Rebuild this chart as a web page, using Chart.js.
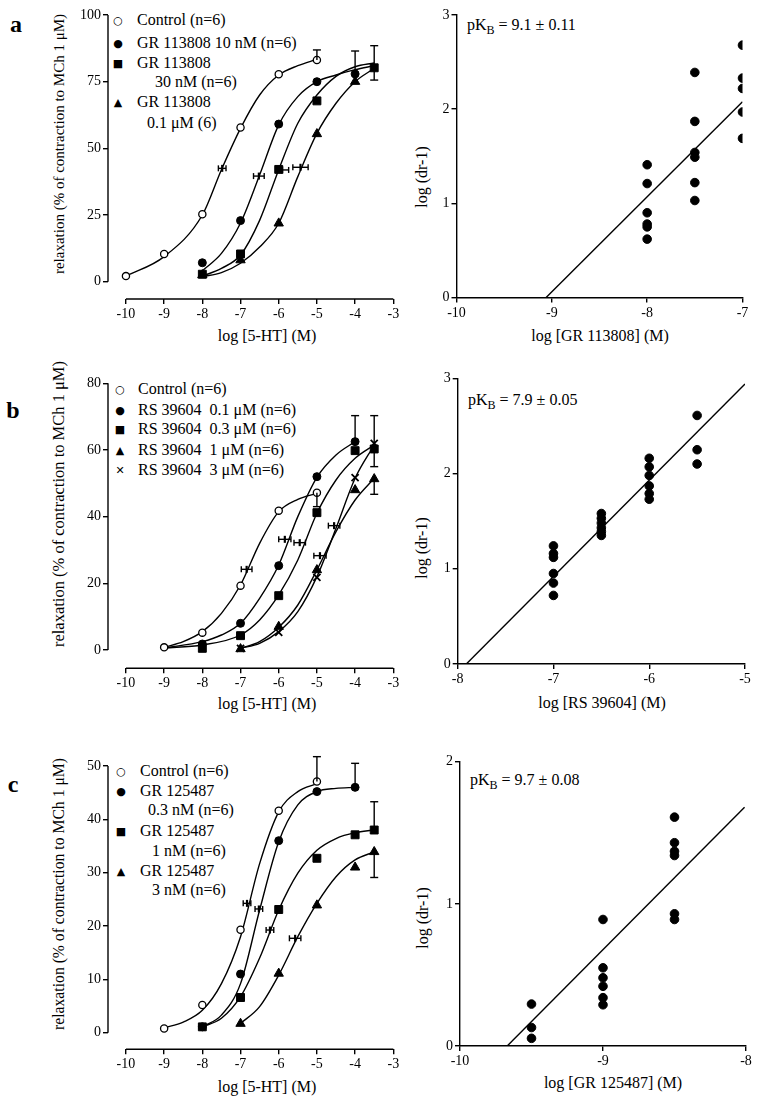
<!DOCTYPE html>
<html>
<head>
<meta charset="utf-8">
<script src="https://cdn.jsdelivr.net/npm/chart.js@4.4.1/dist/chart.umd.min.js"></script>
<style>
  body { margin: 0; background: #fff; }
  #page { position: relative; width: 761px; height: 1100px; font-family: 'Liberation Serif', serif; color: #000; overflow: hidden; }
  canvas { position: absolute; }
  .t { position: absolute; white-space: pre; line-height: 1; font-size: 16px; }
  .c { transform: translate(-50%, -50%); }
  .v { transform: translate(-50%, -50%) rotate(-90deg); }
  .l { transform: translateY(-50%); }
  .sym { position: absolute; font-family: 'DejaVu Sans', sans-serif; font-size: 11px; line-height: 1; transform: translate(-50%, -50%); }
  .lab { position: absolute; font-weight: bold; font-size: 24px; line-height: 1; transform: translate(-50%, -50%); }
  sub { font-size: 12px; vertical-align: -4px; line-height: 0; }
</style>
</head>
<body>
<div id="page">
  <div class="lab" style="left:16px;top:24px">a</div>
  <div class="lab" style="left:13px;top:410px">b</div>
  <div class="lab" style="left:13px;top:784px">c</div>

  <!-- legend a -->
  <div class="sym" style="left:118px;top:20px">○</div>
  <div class="t l" style="left:137px;top:20px">Control (n=6)</div>
  <div class="sym" style="left:118px;top:43px">●</div>
  <div class="t l" style="left:137px;top:43px">GR 113808 10 nM (n=6)</div>
  <div class="sym" style="left:118px;top:63px">■</div>
  <div class="t l" style="left:137px;top:63px">GR 113808</div>
  <div class="t l" style="left:155px;top:82px">30 nM (n=6)</div>
  <div class="sym" style="left:118px;top:102px">▲</div>
  <div class="t l" style="left:137px;top:102px">GR 113808</div>
  <div class="t l" style="left:147px;top:123px">0.1 μM (6)</div>

  <!-- legend b -->
  <div class="sym" style="left:120px;top:389px">○</div>
  <div class="t l" style="left:138px;top:389px">Control (n=6)</div>
  <div class="sym" style="left:120px;top:410px">●</div>
  <div class="t l" style="left:138px;top:410px">RS 39604  0.1 μM (n=6)</div>
  <div class="sym" style="left:120px;top:429px">■</div>
  <div class="t l" style="left:138px;top:429px">RS 39604  0.3 μM (n=6)</div>
  <div class="sym" style="left:120px;top:450px">▲</div>
  <div class="t l" style="left:138px;top:450px">RS 39604  1 μM (n=6)</div>
  <div class="sym" style="left:120px;top:470px">✕</div>
  <div class="t l" style="left:138px;top:470px">RS 39604  3 μM (n=6)</div>

  <!-- legend c -->
  <div class="sym" style="left:121px;top:771px">○</div>
  <div class="t l" style="left:140px;top:771px">Control (n=6)</div>
  <div class="sym" style="left:121px;top:791px">●</div>
  <div class="t l" style="left:140px;top:791px">GR 125487</div>
  <div class="t l" style="left:148px;top:810px">0.3 nM (n=6)</div>
  <div class="sym" style="left:121px;top:831px">■</div>
  <div class="t l" style="left:140px;top:831px">GR 125487</div>
  <div class="t l" style="left:152px;top:851px">1 nM (n=6)</div>
  <div class="sym" style="left:121px;top:871px">▲</div>
  <div class="t l" style="left:140px;top:871px">GR 125487</div>
  <div class="t l" style="left:152px;top:890px">3 nM (n=6)</div>

  <!-- pKB notes -->
  <div class="t l" style="left:467px;top:25px">pK<sub>B</sub> = 9.1 ± 0.11</div>
  <div class="t l" style="left:468px;top:400px">pK<sub>B</sub> = 7.9 ± 0.05</div>
  <div class="t l" style="left:470px;top:780px">pK<sub>B</sub> = 9.7 ± 0.08</div>

  <!-- axis titles -->
  <div class="t c" style="left:267px;top:336px">log [5-HT] (M)</div>
  <div class="t c" style="left:600px;top:336px">log [GR 113808] (M)</div>
  <div class="t c" style="left:267px;top:704px">log [5-HT] (M)</div>
  <div class="t c" style="left:602px;top:703px">log [RS 39604] (M)</div>
  <div class="t c" style="left:267px;top:1087px">log [5-HT] (M)</div>
  <div class="t c" style="left:613px;top:1083px">log [GR 125487] (M)</div>
  <div class="t v" style="left:59px;top:144px;font-size:15px">relaxation (% of contraction to MCh 1 μM)</div>
  <div class="t v" style="left:59px;top:504px;font-size:16.5px">relaxation (% of contraction to MCh 1 μM)</div>
  <div class="t v" style="left:59px;top:894px;font-size:15.7px">relaxation (% of contraction to MCh 1 μM)</div>
  <div class="t v" style="left:422px;top:177px">log (dr-1)</div>
  <div class="t v" style="left:422px;top:548px">log (dr-1)</div>
  <div class="t v" style="left:423px;top:918px">log (dr-1)</div>
</div>

<script>
// ---------- panel a, left: 5-HT curves with GR 113808 ----------
const aCtrlX = [-10, -9, -8, -7, -6, -5];
const aCtrlY = [2.1, 10.4, 25.3, 57.8, 77.8, 83.1];
const aGr10X = [-8, -7, -6, -5, -4];
const aGr10Y = [7.1, 22.9, 59.1, 75.0, 77.9];
const aGr30X = [-8, -7, -6, -5, -3.5];
const aGr30Y = [2.8, 10.4, 42.1, 67.8, 80.2];
const aGr100X = [-8, -7, -6, -5, -4];
const aGr100Y = [2.5, 8.1, 21.9, 55.4, 75.0];
// fitted curves
const aCtrlFitX = [-10, -9, -8, -7.5, -7, -6.5, -6, -5.5, -5];
const aCtrlFitY = [2.1, 9.4, 25, 42, 57.5, 70, 77.5, 81, 83.4];
const aGr10FitX = [-8, -7.5, -7, -6.5, -6, -5.5, -5, -4.5, -4, -3.5];
const aGr10FitY = [4.1, 10.6, 22, 40, 58.8, 69.4, 75, 77.5, 79.5, 81];
const aGr30FitX = [-8, -7.5, -7, -6.5, -6, -5.5, -5, -4.5, -4, -3.5];
const aGr30FitY = [2.1, 5, 10, 23, 42, 59.4, 70, 77, 80.6, 82];
const aGr100FitX = [-8, -7.5, -7, -6.5, -6, -5.5, -5, -4.5, -4, -3.5];
const aGr100FitY = [1.9, 3.4, 6.9, 13, 21.9, 39.4, 55.6, 66.9, 75, 80];
// s.e.mean bars and EC50 markers
const aErrX = [-5, -4, -3.5];
const aErrY = [83.1, 77.9, 80.2];
const aErrLo = [83.1, 77.9, 75.6];
const aErrHi = [86.9, 86.5, 88.5];
const aEcX = [-7.48, -6.52, -5.91, -5.43];
const aEcY = [42.5, 39.6, 41.9, 42.9];
const aEcW = [0.1, 0.14, 0.17, 0.2];

// ---------- panel a, right: Schild plot ----------
const aAntX = [-8, -8, -8, -8, -8, -8, -7.5, -7.5, -7.5, -7.5, -7.5, -7.5, -7, -7, -7, -7, -7];
const aDrY = [1.41, 1.21, 0.90, 0.78, 0.75, 0.62, 2.39, 1.87, 1.54, 1.49, 1.22, 1.03, 2.68, 2.33, 2.22, 1.97, 1.69];
const aLineX = [-9.06, -7];
const aLineY = [0, 2.08];

// ---------- panel b, left: 5-HT curves with RS 39604 ----------
const bCtrlX = [-9, -8, -7, -6, -5];
const bCtrlY = [0.8, 5.2, 19.3, 41.8, 47.2];
const bRs01X = [-8, -7, -6, -5, -4];
const bRs01Y = [1.8, 8.0, 25.3, 52.0, 62.5];
const bRs03X = [-8, -7, -6, -5, -4, -3.5];
const bRs03Y = [0.5, 4.3, 16.3, 41.2, 59.8, 60.3];
const bRs1X = [-7, -6, -5, -4, -3.5];
const bRs1Y = [0.3, 7.0, 24.0, 48.0, 51.3];
const bRs3X = [-7, -6, -5, -4, -3.5];
const bRs3Y = [0.5, 5.3, 21.8, 51.7, 62.0];
const bCtrlFitX = [-9, -8.5, -8, -7.5, -7, -6.5, -6, -5.5, -5];
const bCtrlFitY = [0.8, 2.5, 5.5, 11, 19.5, 32, 41.5, 45.2, 47];
const bRs01FitX = [-9, -8, -7.5, -7, -6.5, -6, -5.5, -5, -4.5, -4];
const bRs01FitY = [0.6, 2.5, 4.5, 8, 15.5, 25.5, 40, 51.8, 58.5, 62.5];
const bRs03FitX = [-9, -8, -7, -6.5, -6, -5.5, -5, -4.5, -4, -3.5];
const bRs03FitY = [0.6, 1.5, 4.5, 9, 16.5, 27, 41, 51, 57.5, 61.5];
const bRs1FitX = [-7, -6.5, -6, -5.5, -5, -4.5, -4, -3.5];
const bRs1FitY = [0.5, 2.5, 6.8, 13.5, 24, 35.5, 45, 51.5];
const bRs3FitX = [-7, -6.5, -6, -5.5, -5, -4.5, -4, -3.5];
const bRs3FitY = [0.5, 2, 5.5, 11.5, 22, 36.5, 51.5, 61.5];
const bErrX = [-5, -4, -3.5, -3.5];
const bErrY = [47.2, 62.5, 60.3, 51.3];
const bErrLo = [43.0, 62.5, 55.0, 46.7];
const bErrHi = [47.2, 70.3, 70.3, 51.3];
const bEcX = [-6.84, -5.84, -5.45, -4.92, -4.55];
const bEcY = [24.2, 33.2, 32.2, 28.3, 37.3];
const bEcW = [0.14, 0.16, 0.15, 0.16, 0.15];

// ---------- panel b, right ----------
const bAntX = [-7, -7, -7, -7, -7, -7, -6.5, -6.5, -6.5, -6.5, -6.5, -6.5, -6, -6, -6, -6, -6, -6, -5.5, -5.5, -5.5];
const bDrY = [1.24, 1.16, 1.12, 0.95, 0.85, 0.72, 1.58, 1.53, 1.48, 1.43, 1.39, 1.35, 2.16, 2.07, 1.98, 1.87, 1.79, 1.73, 2.61, 2.25, 2.10];
const bLineX = [-7.91, -5];
const bLineY = [0, 2.94];

// ---------- panel c, left: 5-HT curves with GR 125487 ----------
const cCtrlX = [-9, -8, -7, -6, -5];
const cCtrlY = [0.8, 5.2, 19.3, 41.6, 47.1];
const cGr03X = [-8, -7, -6, -5, -4];
const cGr03Y = [1.1, 11.0, 36.0, 45.2, 46.0];
const cGr1X = [-8, -7, -6, -5, -4, -3.5];
const cGr1Y = [1.1, 6.6, 23.1, 32.7, 37.1, 38.0];
const cGr3X = [-7, -6, -5, -4, -3.5];
const cGr3Y = [1.7, 11.1, 23.9, 31.0, 33.9];
const cCtrlFitX = [-9, -8.5, -8, -7.5, -7, -6.5, -6, -5.5, -5];
const cCtrlFitY = [0.9, 2, 4.2, 9.2, 18, 31.7, 41.4, 45.2, 46.7];
const cGr03FitX = [-8, -7.5, -7, -6.5, -6, -5.5, -5, -4.5, -4];
const cGr03FitY = [1.1, 3.3, 9.2, 23, 35.8, 42.7, 45.2, 45.8, 46];
const cGr1FitX = [-8, -7.5, -7, -6.5, -6, -5.5, -5, -4.5, -4, -3.5];
const cGr1FitY = [1.1, 2.7, 6.75, 14, 23, 29.9, 34.2, 36.4, 37.5, 38];
const cGr3FitX = [-7, -6.5, -6, -5.5, -5, -4.5, -4, -3.5];
const cGr3FitY = [1.75, 4.9, 10.8, 18, 24.25, 29.25, 32.4, 33.9];
const cErrX = [-5, -4, -3.5, -3.5];
const cErrY = [47.1, 46.0, 38.0, 33.9];
const cErrLo = [47.1, 46.0, 38.0, 29.1];
const cErrHi = [51.75, 50.5, 43.3, 33.9];
const cEcX = [-6.83, -6.52, -6.23, -5.57];
const cEcY = [24.25, 23.2, 19.25, 17.7];
const cEcW = [0.1, 0.1, 0.1, 0.15];

// ---------- panel c, right ----------
const cAntX = [-9.5, -9.5, -9.5, -9, -9, -9, -9, -9, -9, -8.5, -8.5, -8.5, -8.5, -8.5, -8.5];
const cDrY = [0.295, 0.13, 0.054, 0.89, 0.55, 0.48, 0.42, 0.34, 0.29, 1.61, 1.43, 1.37, 1.34, 0.93, 0.89];
const cLineX = [-9.67, -8.01];
const cLineY = [0, 1.68];

// tick labels
const doseTicks = [-10, -9, -8, -7, -6, -5, -4, -3];

Chart.defaults.font.family = "'Liberation Serif', serif";
Chart.defaults.font.size = 14;
Chart.defaults.color = '#000';

const pts = (xs, ys) => xs.map((x, i) => ({ x, y: ys[i] }));

const openC = { pointStyle: 'circle', pointRadius: 3.6, pointBackgroundColor: '#fff', pointBorderColor: '#000', pointBorderWidth: 1.3, order: 0 };
const dotC = { pointStyle: 'circle', pointRadius: 4, pointBackgroundColor: '#000', pointBorderColor: '#000', pointBorderWidth: 1, order: 0 };
const sq = { pointStyle: 'rect', pointRadius: 5.6, pointBackgroundColor: '#000', pointBorderColor: '#000', pointBorderWidth: 1, order: 0 };
const tri = { pointStyle: 'triangle', pointRadius: 5.4, pointBackgroundColor: '#000', pointBorderColor: '#000', pointBorderWidth: 1, order: 0 };
const crs = { pointStyle: 'crossRot', pointRadius: 5, pointBackgroundColor: '#000', pointBorderColor: '#000', pointBorderWidth: 1.8, order: 0 };
const curve = { showLine: true, pointRadius: 0, borderColor: '#000', borderWidth: 1.4, fill: false, cubicInterpolationMode: 'monotone', order: 1 };
const fitLine = { showLine: true, pointRadius: 0, borderColor: '#000', borderWidth: 1.4, fill: false, order: 1 };

// error bars, EC50 markers and the offset axes of the left panels
const extras = {
  id: 'extras',
  afterDatasetsDraw(chart, args, o) {
    const { ctx, chartArea: ca, scales: { x, y } } = chart;
    const seg = (x1, y1, x2, y2) => { ctx.beginPath(); ctx.moveTo(x1, y1); ctx.lineTo(x2, y2); ctx.stroke(); };
    ctx.save();
    ctx.strokeStyle = '#000';
    ctx.lineWidth = 1.4;
    if (o.axisX) {
      seg(x.getPixelForValue(o.axisX[0]), ca.bottom, x.getPixelForValue(o.axisX[1]), ca.bottom);
      seg(ca.left, y.getPixelForValue(o.axisY[0]), ca.left, y.getPixelForValue(o.axisY[1]));
    }
    (o.errX || []).forEach((v, i) => {
      const px = x.getPixelForValue(v);
      const lo = y.getPixelForValue(o.errLo[i]);
      const hi = y.getPixelForValue(o.errHi[i]);
      seg(px, lo, px, hi);
      if (o.errLo[i] < o.errY[i]) seg(px - 4, lo, px + 4, lo);
      if (o.errHi[i] > o.errY[i]) seg(px - 4, hi, px + 4, hi);
    });
    (o.ecX || []).forEach((v, i) => {
      const px = x.getPixelForValue(v);
      const py = y.getPixelForValue(o.ecY[i]);
      const l = x.getPixelForValue(v - o.ecW[i]);
      const r = x.getPixelForValue(v + o.ecW[i]);
      seg(l, py, r, py);
      seg(l, py - 3, l, py + 3);
      seg(r, py - 3, r, py + 3);
      ctx.lineWidth = 2.2;
      seg(px, py - 3.5, px, py + 3.5);
      ctx.lineWidth = 1.4;
    });
    ctx.restore();
  }
};

// box = canvas [left, top, width, height]; area = wanted plot area in page pixels
function panel(box, area, xr, yr, xt, yt, datasets, ex) {
  const cv = document.createElement('canvas');
  cv.width = box[2];
  cv.height = box[3];
  cv.style.left = box[0] + 'px';
  cv.style.top = box[1] + 'px';
  document.getElementById('page').appendChild(cv);
  const offset = !!ex.axisX;
  const axis = (ticks) => ({
    type: 'linear',
    border: { display: !offset, color: '#000', width: 1.4 },
    grid: { drawOnChartArea: false, drawTicks: true, tickLength: 5, color: '#000', lineWidth: 1.4 },
    ticks: { padding: 2, color: '#000', autoSkip: false, maxRotation: 0, callback: v => String(v) },
    afterBuildTicks: s => { s.ticks = ticks.map(v => ({ value: v })); }
  });
  return new Chart(cv, {
    type: 'scatter',
    data: { datasets },
    options: {
      responsive: false,
      animation: false,
      devicePixelRatio: 1,
      events: [],
      layout: { padding: { left: 0, top: area.t - box[1], right: box[0] + box[2] - area.r, bottom: 0 } },
      plugins: { legend: { display: false }, tooltip: { enabled: false }, extras: ex },
      scales: {
        x: Object.assign(axis(xt), { min: xr[0], max: xr[1], afterFit: s => { s.height = box[1] + box[3] - area.b; } }),
        y: Object.assign(axis(yt), { min: yr[0], max: yr[1], afterFit: s => { s.width = area.l - box[0]; } })
      }
    },
    plugins: [extras]
  });
}

// a left
panel([60, 0, 350, 325], { l: 108, r: 393.3, t: 15, b: 299 }, [-10.47, -3], [-6.49, 100],
  doseTicks, [0, 25, 50, 75, 100], [
    { data: pts(aCtrlX, aCtrlY), ...openC },
    { data: pts(aGr10X, aGr10Y), ...dotC },
    { data: pts(aGr30X, aGr30Y), ...sq },
    { data: pts(aGr100X, aGr100Y), ...tri },
    { data: pts(aCtrlFitX, aCtrlFitY), ...curve },
    { data: pts(aGr10FitX, aGr10FitY), ...curve },
    { data: pts(aGr30FitX, aGr30FitY), ...curve },
    { data: pts(aGr100FitX, aGr100FitY), ...curve }
  ], { axisX: [-10, -3], axisY: [0, 100], errX: aErrX, errY: aErrY, errLo: aErrLo, errHi: aErrHi, ecX: aEcX, ecY: aEcY, ecW: aEcW });

// a right
panel([425, 0, 336, 325], { l: 456.5, r: 742.5, t: 15, b: 297.5 }, [-10, -7], [0, 3],
  [-10, -9, -8, -7], [0, 1, 2, 3], [
    { data: pts(aAntX, aDrY), ...dotC, pointRadius: 4.3 },
    { data: pts(aLineX, aLineY), ...fitLine }
  ], {});

// b left
panel([60, 365, 350, 325], { l: 108, r: 393.3, t: 383.3, b: 668.3 }, [-10.47, -3], [-5.49, 80],
  doseTicks, [0, 20, 40, 60, 80], [
    { data: pts(bCtrlX, bCtrlY), ...openC },
    { data: pts(bRs01X, bRs01Y), ...dotC },
    { data: pts(bRs03X, bRs03Y), ...sq },
    { data: pts(bRs1X, bRs1Y), ...tri },
    { data: pts(bRs3X, bRs3Y), ...crs },
    { data: pts(bCtrlFitX, bCtrlFitY), ...curve },
    { data: pts(bRs01FitX, bRs01FitY), ...curve },
    { data: pts(bRs03FitX, bRs03FitY), ...curve },
    { data: pts(bRs1FitX, bRs1FitY), ...curve },
    { data: pts(bRs3FitX, bRs3FitY), ...curve }
  ], { axisX: [-10, -3], axisY: [0, 80], errX: bErrX, errY: bErrY, errLo: bErrLo, errHi: bErrHi, ecX: bEcX, ecY: bEcY, ecW: bEcW });

// b right
panel([425, 365, 336, 325], { l: 457.7, r: 745, t: 378.3, b: 664 }, [-8, -5], [0, 3],
  [-8, -7, -6, -5], [0, 1, 2, 3], [
    { data: pts(bAntX, bDrY), ...dotC, pointRadius: 4.3 },
    { data: pts(bLineX, bLineY), ...fitLine }
  ], {});

// c left
panel([60, 745, 350, 330], { l: 108, r: 393.3, t: 766, b: 1049.3 }, [-10.47, -3], [-3.11, 50],
  doseTicks, [0, 10, 20, 30, 40, 50], [
    { data: pts(cCtrlX, cCtrlY), ...openC },
    { data: pts(cGr03X, cGr03Y), ...dotC },
    { data: pts(cGr1X, cGr1Y), ...sq },
    { data: pts(cGr3X, cGr3Y), ...tri },
    { data: pts(cCtrlFitX, cCtrlFitY), ...curve },
    { data: pts(cGr03FitX, cGr03FitY), ...curve },
    { data: pts(cGr1FitX, cGr1FitY), ...curve },
    { data: pts(cGr3FitX, cGr3FitY), ...curve }
  ], { axisX: [-10, -3], axisY: [0, 50], errX: cErrX, errY: cErrY, errLo: cErrLo, errHi: cErrHi, ecX: cEcX, ecY: cEcY, ecW: cEcW });

// c right
panel([425, 745, 336, 330], { l: 460, r: 746, t: 761.7, b: 1046 }, [-10, -8], [0, 2],
  [-10, -9, -8], [0, 1, 2], [
    { data: pts(cAntX, cDrY), ...dotC, pointRadius: 4.3 },
    { data: pts(cLineX, cLineY), ...fitLine }
  ], {});
</script>
</body>
</html>
